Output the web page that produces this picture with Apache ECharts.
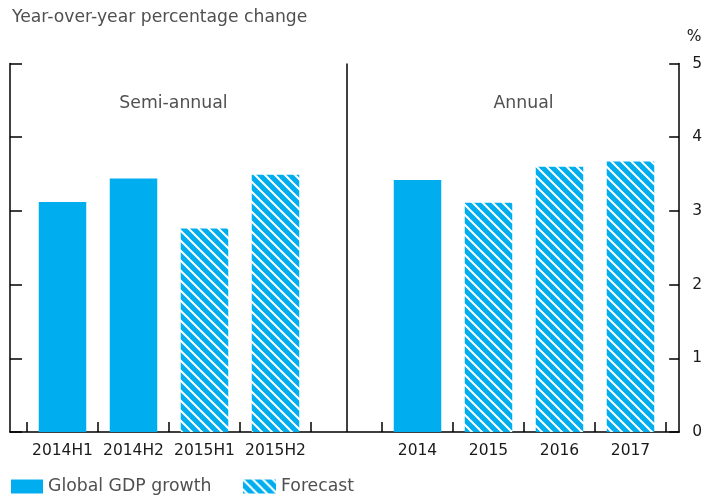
<!DOCTYPE html>
<html>
<head>
<meta charset="utf-8">
<script src="https://cdn.jsdelivr.net/npm/echarts@6/dist/echarts.min.js"></script>
<style>
  html, body { margin: 0; padding: 0; background: #fff; }
  #chart { width: 705px; height: 498px; }
</style>
</head>
<body>
<div id="chart"></div>
<script>
var categories = ['2014H1', '2014H2', '2015H1', '2015H2', ' ', '2014', '2015', '2016', '2017'];
var actual =   [3.12, 3.44, '-', '-', '-', 3.42, '-', '-', '-'];
var forecast = ['-', '-', 2.76, 3.49, '-', '-', 3.11, 3.60, 3.67];
var yTicks = [0, 1, 2, 3, 4, 5];

var blue = '#00aeef';
var font = '"DejaVu Sans", sans-serif';
var grey = '#505050';

// hatched fill: white diagonal stripes on blue
function makeHatch() {
    var s = 10;
    var c = document.createElement('canvas');
    c.width = s; c.height = s;
    var ctx = c.getContext('2d');
    ctx.fillStyle = blue;
    ctx.fillRect(0, 0, s, s);
    ctx.strokeStyle = '#ffffff';
    ctx.lineWidth = 2;
    for (var k = -1; k <= 1; k++) {
        ctx.beginPath();
        ctx.moveTo(k * s - 1, -1);
        ctx.lineTo(k * s + s + 1, s + 1);
        ctx.stroke();
    }
    return c;
}
var hatch = { image: makeHatch(), repeat: 'repeat' };

var dom = document.getElementById('chart');
var myChart = echarts.init(dom);
var option = null;

option = {
    animation: false,
    textStyle: { fontFamily: font },
    title: {
        text: 'Year-over-year percentage change',
        left: 7, top: 4,
        textStyle: { fontSize: 17.2, fontWeight: 'normal', color: grey, fontFamily: font }
    },
    graphic: [
        { type: 'text', x: 694, y: 37,
          style: { text: '%', fontSize: 15.5, fill: '#1a1a1a', fontFamily: font, align: 'center', verticalAlign: 'middle' } },
        { type: 'text', x: 173.5, y: 104,
          style: { text: 'Semi-annual', fontSize: 17.3, fill: grey, fontFamily: font, align: 'center', verticalAlign: 'middle' } },
        { type: 'text', x: 523.5, y: 104,
          style: { text: 'Annual', fontSize: 17.3, fill: grey, fontFamily: font, align: 'center', verticalAlign: 'middle' } }
    ],
    legend: [
        {
            data: ['Global GDP growth'],
            left: 6, top: 473,
            itemWidth: 32, itemHeight: 14,
            icon: 'rect',
            textStyle: { fontSize: 17.3, color: grey, fontFamily: font },
            selectedMode: false
        },
        {
            data: ['Forecast'],
            left: 238, top: 473,
            itemWidth: 33, itemHeight: 14,
            icon: 'rect',
            textStyle: { fontSize: 17.3, color: grey, fontFamily: font },
            selectedMode: false
        }
    ],
    grid: [
        { left: 10, right: 23, top: 63.5, bottom: 66 },
        { left: 27, right: 39, top: 63.5, bottom: 66 }
    ],
    xAxis: [
        {
            gridIndex: 0,
            type: 'category',
            data: [''],
            axisLine: { lineStyle: { color: '#000', width: 1.5 } },
            axisTick: { show: false },
            axisLabel: { show: false }
        },
        {
            gridIndex: 1,
            type: 'category',
            data: categories,
            axisLine: { show: true, lineStyle: { color: 'rgba(0,0,0,0)' } },
            axisTick: { show: true, interval: 0, inside: true, length: 10, lineStyle: { color: '#000', width: 1.5 } },
            axisLabel: { interval: 0, margin: 11, fontSize: 15.5, color: '#1a1a1a', fontFamily: font }
        }
    ],
    yAxis: [
        {
            gridIndex: 0,
            type: 'value',
            min: 0, max: 5, interval: 1,
            position: 'left',
            axisLine: { show: true, lineStyle: { color: '#000', width: 1.5 } },
            axisTick: { show: true, inside: true, length: 12, lineStyle: { color: '#000', width: 1.5 } },
            axisLabel: { show: false },
            splitLine: { show: false }
        },
        {
            gridIndex: 0,
            type: 'value',
            min: 0, max: 5, interval: 1,
            position: 'right',
            axisLine: { show: true, lineStyle: { color: '#000', width: 1.5 } },
            axisTick: { show: true, inside: true, length: 10, lineStyle: { color: '#000', width: 1.5 } },
            axisLabel: {
                margin: 13, fontSize: 15.5, color: '#1a1a1a', fontFamily: font,
                formatter: function (v) { return yTicks.indexOf(v) >= 0 ? String(v) : ''; }
            },
            splitLine: { show: false }
        },
        {
            gridIndex: 1,
            type: 'value',
            min: 0, max: 5, interval: 1,
            show: false
        }
    ],
    series: [
        {
            name: 'Global GDP growth',
            type: 'bar',
            xAxisIndex: 1,
            yAxisIndex: 2,
            barWidth: 47.5,
            barGap: '-100%',
            itemStyle: { color: blue },
            data: actual,
            markLine: {
                silent: true,
                symbol: 'none',
                label: { show: false },
                lineStyle: { color: '#000', width: 1.5, type: 'solid' },
                data: [{ xAxis: 4 }]
            }
        },
        {
            name: 'Forecast',
            type: 'bar',
            xAxisIndex: 1,
            yAxisIndex: 2,
            barWidth: 47.5,
            barGap: '-100%',
            itemStyle: { color: hatch },
            data: forecast
        }
    ]
};
if (option && typeof option === "object") {
    myChart.setOption(option, true);
}
</script>
</body>
</html>
